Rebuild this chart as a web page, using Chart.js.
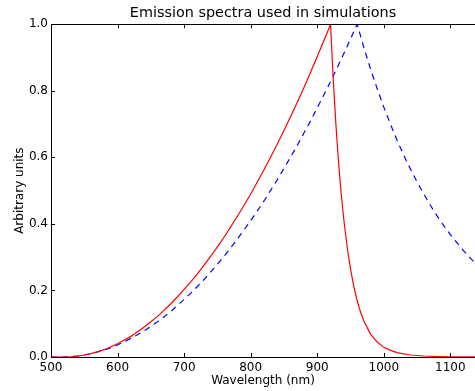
<!DOCTYPE html>
<html>
<head>
<meta charset="utf-8">
<script src="https://cdn.jsdelivr.net/npm/chart.js@4.4.1/dist/chart.umd.min.js"></script>
<style>
  html, body { margin: 0; padding: 0; background: #fff; }
  #wrap { width: 475px; height: 391px; }
</style>
</head>
<body>
<div id="wrap"><canvas id="spectraChart"></canvas></div>
<script>
// wavelength (nm) and intensity of the two emission spectra
const redX = [500, 510, 520, 530, 540, 550, 560, 570, 580, 590, 600, 610, 620, 630, 640, 650, 660, 670, 680, 690,
              700, 710, 720, 730, 740, 750, 760, 770, 780, 790, 800, 810, 820, 830, 840, 850, 860, 870, 880, 890,
              900, 910, 920, 922, 924, 926, 928, 930, 933, 936, 940, 945, 950, 955, 960, 965, 970, 980, 990, 1000,
              1010, 1020, 1040, 1060, 1080, 1100, 1120, 1140];
const redY = [0, 0, 0, 0.0008, 0.0025, 0.006, 0.010, 0.016, 0.022, 0.031, 0.040, 0.051, 0.062, 0.076, 0.090, 0.106, 0.122, 0.141, 0.160, 0.181,
              0.203, 0.226, 0.250, 0.276, 0.303, 0.331, 0.360, 0.391, 0.423, 0.456, 0.490, 0.526, 0.563, 0.601, 0.640, 0.681, 0.723, 0.766, 0.810, 0.856,
              0.903, 0.951, 1.0, 0.915, 0.837, 0.766, 0.700, 0.641, 0.561, 0.490, 0.411, 0.329, 0.264, 0.211, 0.169, 0.135, 0.108, 0.069, 0.045, 0.029,
              0.020, 0.013, 0.006, 0.003, 0.0015, 0.0007, 0.0003, 0.0001];

const blueX = [500, 510, 520, 530, 540, 550, 560, 570, 580, 590, 600, 610, 620, 630, 640, 650, 660, 670, 680, 690,
               700, 710, 720, 730, 740, 750, 760, 770, 780, 790, 800, 810, 820, 830, 840, 850, 860, 870, 880, 890,
               900, 910, 920, 930, 940, 950, 960, 970, 980, 990, 1000, 1010, 1020, 1030, 1040, 1050, 1060, 1070, 1080, 1090,
               1100, 1110, 1120, 1130, 1140];
const blueY = [0, 0, 0.0001, 0.0011, 0.003, 0.006, 0.010, 0.015, 0.021, 0.028, 0.036, 0.046, 0.056, 0.067, 0.079, 0.092, 0.106, 0.121, 0.137, 0.155,
               0.173, 0.192, 0.212, 0.233, 0.256, 0.279, 0.303, 0.328, 0.355, 0.382, 0.410, 0.439, 0.469, 0.501, 0.533, 0.567, 0.601, 0.636, 0.673, 0.710,
               0.749, 0.788, 0.828, 0.870, 0.912, 0.956, 1.0, 0.930, 0.866, 0.807, 0.751, 0.700, 0.651, 0.606, 0.565, 0.526, 0.490, 0.456, 0.424, 0.395,
               0.368, 0.343, 0.319, 0.297, 0.277];

const xTicks = [500, 600, 700, 800, 900, 1000, 1100];
const yTicks = [0, 0.2, 0.4, 0.6, 0.8, 1.0];

const font = 'DejaVu Sans';

// matplotlib style box: top spine + inward tick marks
const spinesPlugin = {
    id: 'spines',
    afterDraw(chart) {
        const { ctx, chartArea: a, scales: { x, y } } = chart;
        ctx.save();
        ctx.strokeStyle = '#000';
        ctx.lineWidth = 1;
        ctx.beginPath();
        ctx.moveTo(a.left, Math.round(a.top) + 0.5);
        ctx.lineTo(a.right, Math.round(a.top) + 0.5);
        xTicks.forEach(v => {
            const px = Math.round(x.getPixelForValue(v)) + 0.5;
            ctx.moveTo(px, a.bottom); ctx.lineTo(px, a.bottom - 4);
            ctx.moveTo(px, a.top); ctx.lineTo(px, a.top + 4);
        });
        yTicks.forEach(v => {
            const py = Math.round(y.getPixelForValue(v)) + 0.5;
            ctx.moveTo(a.left, py); ctx.lineTo(a.left + 4, py);
        });
        ctx.stroke();
        ctx.restore();
    }
};

const ctx = document.getElementById('spectraChart').getContext('2d');
new Chart(ctx, {
    type: 'line',
    data: {
        datasets: [{
            data: redX.map((v, i) => ({ x: v, y: redY[i] })),
            borderColor: '#ff0000',
            borderWidth: 1.2,
            pointRadius: 0,
            tension: 0
        }, {
            data: blueX.map((v, i) => ({ x: v, y: blueY[i] })),
            borderColor: '#0000ff',
            borderWidth: 1.2,
            borderDash: [6, 5],
            pointRadius: 0,
            tension: 0
        }]
    },
    options: {
        responsive: true,
        maintainAspectRatio: false,
        animation: false,
        events: [],
        layout: { padding: { top: 0, right: 0, bottom: 0, left: 0 } },
        plugins: {
            legend: { display: false },
            tooltip: { enabled: false },
            title: {
                display: true,
                fullSize: false,
                text: 'Emission spectra used in simulations',
                color: '#000',
                font: { family: font, size: 14.4, weight: 'normal' },
                padding: { top: 5, bottom: 2 }
            }
        },
        scales: {
            x: {
                type: 'linear',
                min: 500,
                max: 1137,
                afterBuildTicks: scale => { scale.ticks = xTicks.map(v => ({ value: v })); },
                afterFit: scale => { scale.height = 34; },
                grid: { display: false, drawTicks: false },
                border: { display: true, color: '#000', width: 1 },
                ticks: {
                    color: '#000',
                    padding: 4,
                    maxRotation: 0,
                    autoSkip: false,
                    font: { family: font, size: 12 },
                    callback: v => String(v)
                },
                title: {
                    display: true,
                    text: 'Wavelength (nm)',
                    color: '#000',
                    font: { family: font, size: 12 },
                    padding: { top: 0, bottom: 3 }
                }
            },
            y: {
                min: 0,
                max: 1,
                afterBuildTicks: scale => { scale.ticks = yTicks.map(v => ({ value: v })); },
                afterFit: scale => { scale.width = 51; },
                grid: { display: false, drawTicks: false },
                border: { display: true, color: '#000', width: 1 },
                ticks: {
                    color: '#000',
                    padding: 3,
                    font: { family: font, size: 12 },
                    callback: v => v.toFixed(1)
                },
                title: {
                    display: true,
                    text: 'Arbitrary units',
                    color: '#000',
                    font: { family: font, size: 12 },
                    padding: { top: 13, bottom: 0 }
                }
            }
        }
    },
    plugins: [spinesPlugin]
});
</script>
</body>
</html>
